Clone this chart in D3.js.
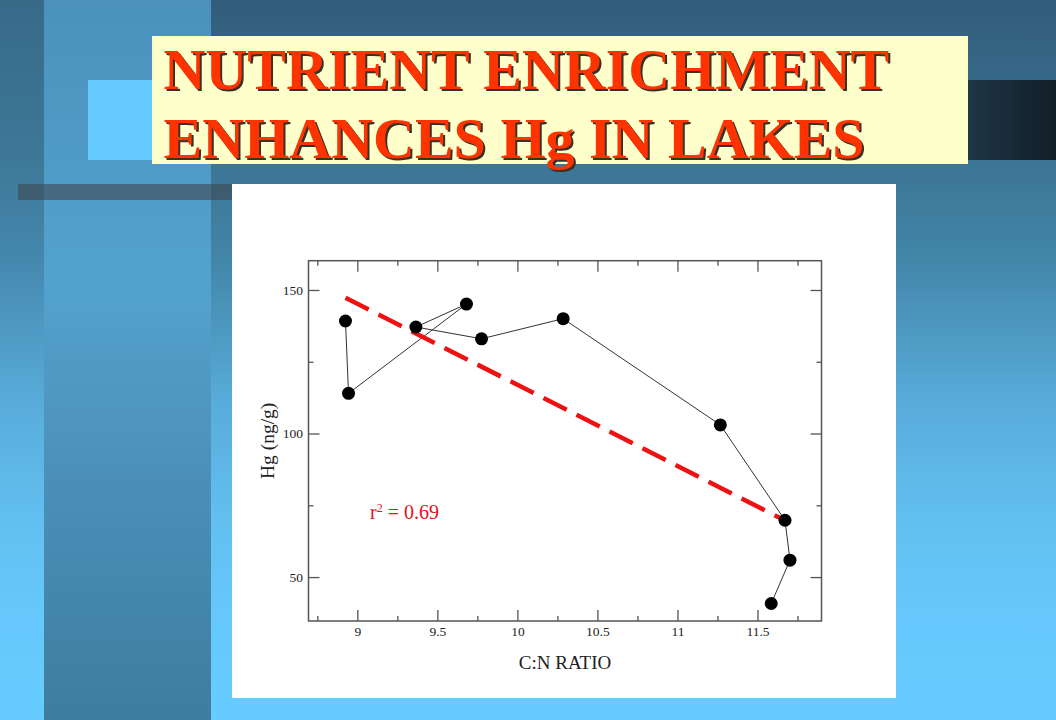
<!DOCTYPE html>
<html>
<head>
<meta charset="utf-8">
<script src="https://cdn.jsdelivr.net/npm/d3@7/dist/d3.min.js"></script>
<style>
  html, body { margin: 0; padding: 0; background: #66ccff; }
  svg { display: block; }
</style>
</head>
<body>
<script>
// ---- data ----
const titleLines = ["NUTRIENT ENRICHMENT", "ENHANCES Hg IN LAKES"];
const cnRatio  = [8.926, 8.945, 9.682, 9.366, 9.776, 10.286, 11.268, 11.672, 11.703, 11.586];
const hgValues = [139.2, 114.0, 145.1, 137.1, 133.0, 140.0, 103.0, 69.8, 55.9, 40.8];
const fitX = [8.926, 11.68];
const fitY = [147.3, 69.5];
const xMajorTicks = [9, 9.5, 10, 10.5, 11, 11.5];
const xTickLabels = ["9", "9.5", "10", "10.5", "11", "11.5"];
const xMinorTicks = [8.75, 9.25, 9.75, 10.25, 10.75, 11.25, 11.75];
const yMajorTicks = [50, 100, 150];
const yTickLabels = ["50", "100", "150"];
const yMinorTicks = [75, 125];
const xTitle = "C:N RATIO";
const yTitle = "Hg (ng/g)";
const rLabel = { base: "r", sup: "2", rest: " = 0.69" };

const W = 1056, H = 720;
const svg = d3.select("body").append("svg").attr("width", W).attr("height", H);
const defs = svg.append("defs");

function vGrad(id, stops) {
  const g = defs.append("linearGradient").attr("id", id)
    .attr("x1", 0).attr("y1", 0).attr("x2", 0).attr("y2", 1);
  stops.forEach(s => g.append("stop").attr("offset", s[0]).attr("stop-color", s[1]));
}
vGrad("bgMain", [[0, "#325d7b"], [0.22, "#3c7494"], [0.35, "#4184a6"], [0.56, "#58acda"], [0.72, "#62bff0"], [0.86, "#66c8fc"], [1, "#66ccff"]]);
vGrad("bgLeft", [[0, "#386a88"], [0.22, "#3d7898"], [0.35, "#4486ac"], [0.56, "#58acda"], [0.72, "#62bff0"], [0.86, "#66c8fc"], [1, "#66ccff"]]);
vGrad("bgCol", [[0, "#4a92bd"], [0.4, "#53a2ce"], [0.7, "#4a8db6"], [1, "#3e7d9e"]]);
const hg = defs.append("linearGradient").attr("id", "darkRect").attr("x1", 0).attr("x2", 1).attr("y1", 0).attr("y2", 0);
hg.append("stop").attr("offset", 0).attr("stop-color", "#1e3646");
hg.append("stop").attr("offset", 1).attr("stop-color", "#111e28");

// ---- background ----
svg.append("rect").attr("x", 0).attr("y", 0).attr("width", W).attr("height", H).attr("fill", "url(#bgMain)");
svg.append("rect").attr("x", 0).attr("y", 0).attr("width", 44).attr("height", H).attr("fill", "url(#bgLeft)");
svg.append("rect").attr("x", 44).attr("y", 0).attr("width", 167).attr("height", H).attr("fill", "url(#bgCol)");
svg.append("rect").attr("x", 88).attr("y", 80).attr("width", 64).attr("height", 80).attr("fill", "#66ccff");
svg.append("rect").attr("x", 968).attr("y", 80).attr("width", 88).attr("height", 80).attr("fill", "url(#darkRect)");
svg.append("rect").attr("x", 18).attr("y", 184).attr("width", 214).attr("height", 16).attr("fill", "rgba(64,71,81,0.6)");

// ---- title box ----
svg.append("rect").attr("x", 152).attr("y", 36).attr("width", 816).attr("height", 128).attr("fill", "#ffffcc");
const titleG = svg.append("g").attr("font-family", "'Liberation Serif', 'Times New Roman', serif")
  .attr("font-weight", "bold").attr("font-size", 58);
const baselines = [88.5, 157.5];
titleLines.forEach((t, i) => {
  titleG.append("text").attr("x", 165.6).attr("y", baselines[i] + 2).attr("fill", "#3a3228").text(t);
  titleG.append("text").attr("x", 163.6).attr("y", baselines[i]).attr("fill", "#ff3300").text(t);
});

// ---- chart panel ----
svg.append("rect").attr("x", 232).attr("y", 184).attr("width", 664).attr("height", 514).attr("fill", "#ffffff");

const x = d3.scaleLinear().domain([8.695, 11.9]).range([308.5, 821.5]);
const y = d3.scaleLinear().domain([34.7, 160.2]).range([621, 260.7]);

const axisColor = "#555";
const fontSerif = "'Liberation Serif', 'Times New Roman', serif";

function styleAxis(g) {
  g.select(".domain").remove();
  g.selectAll(".tick line").attr("stroke", axisColor).attr("stroke-width", 1.3);
  g.selectAll(".tick text").attr("fill", "#222").attr("font-family", fontSerif).attr("font-size", 13.5);
}

// major ticks with labels
svg.append("g").attr("transform", `translate(0,${y.range()[0]})`)
  .call(d3.axisBottom(x).tickValues(xMajorTicks).tickSize(-11).tickPadding(5)
    .tickFormat((d, i) => xTickLabels[i]))
  .call(styleAxis);
svg.append("g").attr("transform", `translate(${x.range()[0]},0)`)
  .call(d3.axisLeft(y).tickValues(yMajorTicks).tickSize(-11).tickPadding(5.5)
    .tickFormat((d, i) => yTickLabels[i]))
  .call(styleAxis);
// top / right major ticks, no labels
svg.append("g").attr("transform", `translate(0,${y.range()[1]})`)
  .call(d3.axisTop(x).tickValues(xMajorTicks).tickSize(-11).tickFormat(""))
  .call(styleAxis);
svg.append("g").attr("transform", `translate(${x.range()[1]},0)`)
  .call(d3.axisRight(y).tickValues(yMajorTicks).tickSize(-11).tickFormat(""))
  .call(styleAxis);
// minor ticks on all sides
svg.append("g").attr("transform", `translate(0,${y.range()[0]})`)
  .call(d3.axisBottom(x).tickValues(xMinorTicks).tickSize(-5).tickFormat("")).call(styleAxis);
svg.append("g").attr("transform", `translate(0,${y.range()[1]})`)
  .call(d3.axisTop(x).tickValues(xMinorTicks).tickSize(-5).tickFormat("")).call(styleAxis);
svg.append("g").attr("transform", `translate(${x.range()[0]},0)`)
  .call(d3.axisLeft(y).tickValues(yMinorTicks).tickSize(-5).tickFormat("")).call(styleAxis);
svg.append("g").attr("transform", `translate(${x.range()[1]},0)`)
  .call(d3.axisRight(y).tickValues(yMinorTicks).tickSize(-5).tickFormat("")).call(styleAxis);

// frame
svg.append("rect")
  .attr("x", x.range()[0]).attr("y", y.range()[1])
  .attr("width", x.range()[1] - x.range()[0]).attr("height", y.range()[0] - y.range()[1])
  .attr("fill", "none").attr("stroke", axisColor).attr("stroke-width", 1.5);

// axis titles
svg.append("text").attr("x", (x.range()[0] + x.range()[1]) / 2).attr("y", 669.3)
  .attr("text-anchor", "middle").attr("font-family", fontSerif).attr("font-size", 19)
  .attr("fill", "#222").text(xTitle);
svg.append("text")
  .attr("transform", `translate(273.5,${(y.range()[0] + y.range()[1]) / 2}) rotate(-90)`)
  .attr("text-anchor", "middle").attr("font-family", fontSerif).attr("font-size", 19.5)
  .attr("fill", "#222").text(yTitle);

// data
const pts = cnRatio.map((c, i) => [c, hgValues[i]]);
svg.append("path").datum(pts)
  .attr("d", d3.line().x(d => x(d[0])).y(d => y(d[1])))
  .attr("fill", "none").attr("stroke", "#333").attr("stroke-width", 1);

// regression line
const fit = fitX.map((v, i) => [v, fitY[i]]);
svg.append("path").datum(fit)
  .attr("d", d3.line().x(d => x(d[0])).y(d => y(d[1])))
  .attr("fill", "none").attr("stroke", "#ee1111").attr("stroke-width", 4.5)
  .attr("stroke-dasharray", "26,11");

svg.append("g").selectAll("circle").data(pts).join("circle")
  .attr("cx", d => x(d[0])).attr("cy", d => y(d[1])).attr("r", 6.5).attr("fill", "#000");

// r^2 label
const rt = svg.append("text").attr("x", 370).attr("y", 519)
  .attr("font-family", fontSerif).attr("font-size", 20).attr("fill", "#e0151b");
rt.append("tspan").text(rLabel.base);
rt.append("tspan").attr("dy", -7).attr("font-size", 12).text(rLabel.sup);
rt.append("tspan").attr("dy", 7).text(rLabel.rest);
</script>
</body>
</html>
